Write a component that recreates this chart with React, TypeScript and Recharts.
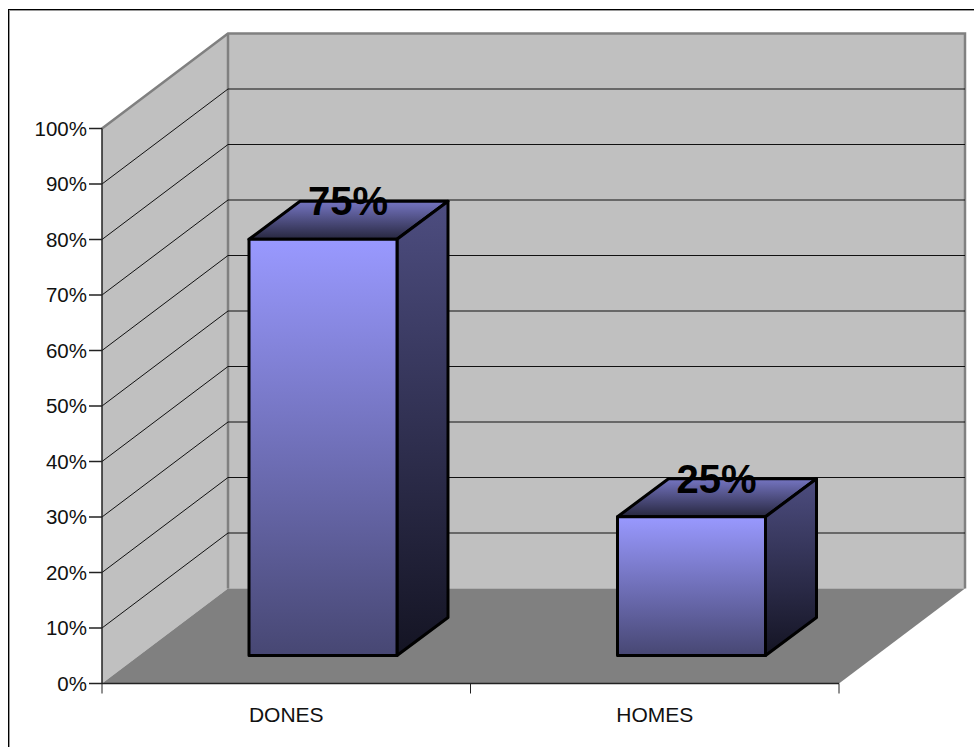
import React from 'react';
import { BarChart, Bar, XAxis, YAxis, CartesianGrid, LabelList, ReferenceArea } from 'recharts';

const CATEGORIES = ['DONES', 'HOMES'];
const VALUES = [75, 25];
const Y_TICKS = [0, 10, 20, 30, 40, 50, 60, 70, 80, 90, 100];

const chartData = CATEGORIES.map((name, i) => ({ name, value: VALUES[i] }));

// depth of the fake 3D box
const WALL_DX = 126;
const WALL_DY = -95;
const BAR_SHIFT_X = 37;
const BAR_SHIFT_Y = -28;
const BAR_DX = 51;
const BAR_DY = -38;
const BAND_WIDTH = 368.5;

const FONT = '"Liberation Sans", Arial, sans-serif';
const AXIS_COLOR = '#222';

// back wall, side wall and floor, drawn from the plot rectangle
const Walls = ({ x, y, width, height }: any) => {
  const left = x;
  const right = x + width;
  const top = y;
  const bottom = y + height;
  return (
    <g>
      <polygon
        points={`${left},${bottom} ${left},${top} ${left + WALL_DX},${top + WALL_DY} ${left + WALL_DX},${bottom + WALL_DY}`}
        fill="#c0c0c0"
      />
      <polygon
        points={`${left + WALL_DX},${top + WALL_DY} ${right + WALL_DX},${top + WALL_DY} ${right + WALL_DX},${bottom + WALL_DY} ${left + WALL_DX},${bottom + WALL_DY}`}
        fill="#c0c0c0"
      />
      <polygon
        points={`${left},${bottom} ${right},${bottom} ${right + WALL_DX},${bottom + WALL_DY} ${left + WALL_DX},${bottom + WALL_DY}`}
        fill="#808080"
      />
      <polyline
        points={`${left},${top} ${left + WALL_DX},${top + WALL_DY} ${right + WALL_DX},${top + WALL_DY} ${right + WALL_DX},${bottom + WALL_DY}`}
        fill="none"
        stroke="#808080"
        strokeWidth={2.5}
      />
      <line
        x1={left + WALL_DX}
        y1={top + WALL_DY}
        x2={left + WALL_DX}
        y2={bottom + WALL_DY}
        stroke="#808080"
        strokeWidth={2.5}
      />
    </g>
  );
};

// one gridline runs up the side wall and across the back wall
// 0% and 100% are left out, the wall edges stand in for them
const GridLine = ({ x1, x2, y1, index }: any) => {
  if (index === 0 || index === Y_TICKS.length - 1 || y1 === undefined) return <g key={`grid-${index}`} />;
  return (
    <polyline
      key={`grid-${index}`}
      points={`${x1},${y1} ${x1 + WALL_DX},${y1 + WALL_DY} ${x2 + WALL_DX},${y1 + WALL_DY}`}
      fill="none"
      stroke="#111"
      strokeWidth={1}
    />
  );
};

const Bar3D = ({ x, y, width, height }: any) => {
  const fx = x + BAR_SHIFT_X;
  const fy = y + BAR_SHIFT_Y;
  const fb = fy + height;
  const fr = fx + width;
  return (
    <g stroke="#000" strokeWidth={3} strokeLinejoin="round">
      <polygon
        points={`${fx},${fy} ${fr},${fy} ${fr + BAR_DX},${fy + BAR_DY} ${fx + BAR_DX},${fy + BAR_DY}`}
        fill="url(#topFace)"
      />
      <polygon
        points={`${fr},${fy} ${fr + BAR_DX},${fy + BAR_DY} ${fr + BAR_DX},${fb + BAR_DY} ${fr},${fb}`}
        fill="url(#sideFace)"
      />
      <rect x={fx} y={fy} width={width} height={height} fill="url(#frontFace)" />
    </g>
  );
};

const PercentLabel = ({ x, y, width, value }: any) => (
  <text
    x={x + width / 2 + 62}
    y={y - 52}
    textAnchor="middle"
    fontFamily={FONT}
    fontSize={40}
    fontWeight="bold"
    fill="#000"
  >
    {`${value}%`}
  </text>
);

const YTick = ({ x, y, payload }: any) => (
  <text x={x} y={y + 7} textAnchor="end" fontFamily={FONT} fontSize={20.5} fill="#111">
    {`${payload.value}%`}
  </text>
);

// the tick marks sit on the band edges, the label in the middle
const XTick = ({ x, y, payload, index }: any) => (
  <g>
    <line x1={x - BAND_WIDTH / 2} y1={y - 8} x2={x - BAND_WIDTH / 2} y2={y + 2} stroke={AXIS_COLOR} />
    {index === CATEGORIES.length - 1 && (
      <line x1={x + BAND_WIDTH / 2} y1={y - 8} x2={x + BAND_WIDTH / 2} y2={y + 2} stroke={AXIS_COLOR} />
    )}
    <text x={x} y={y + 30} textAnchor="middle" fontFamily={FONT} fontSize={21} fill="#111">
      {payload.value}
    </text>
  </g>
);

export default function App() {
  return (
    <div
      style={{
        position: 'absolute',
        left: 0,
        top: 0,
        width: 974,
        height: 747,
        background: '#fff',
        overflow: 'hidden',
      }}
    >
      <div
        style={{
          position: 'absolute',
          left: 8,
          top: 9,
          width: 1000,
          height: 800,
          borderLeft: '1px solid #000',
          borderTop: '1px solid #000',
          boxShadow: 'inset 1px 1px 0 #9a9a9a',
        }}
      />
      <BarChart
        width={974}
        height={747}
        data={chartData}
        margin={{ top: 128.5, right: 135, bottom: 0, left: 0 }}
        barSize={148}
        style={{ position: 'absolute', left: 0, top: 0 }}
      >
        <defs>
          <linearGradient id="frontFace" x1="0" y1="0" x2="0" y2="1">
            <stop offset="0%" stopColor="#9999ff" />
            <stop offset="100%" stopColor="#474773" />
          </linearGradient>
          <linearGradient id="sideFace" x1="0" y1="0" x2="0" y2="1">
            <stop offset="0%" stopColor="#4d4d80" />
            <stop offset="100%" stopColor="#141423" />
          </linearGradient>
          <linearGradient id="topFace" x1="0" y1="0" x2="0" y2="1">
            <stop offset="0%" stopColor="#7575c2" />
            <stop offset="100%" stopColor="#27273f" />
          </linearGradient>
        </defs>
        <ReferenceArea y1={0} y2={100} shape={<Walls />} ifOverflow="visible" zIndex={-200} />
        <CartesianGrid
          vertical={false}
          stroke="#000"
          zIndex={-100}
          horizontal={(props: any) => <GridLine {...props} />}
        />
        <XAxis
          dataKey="name"
          axisLine={{ stroke: AXIS_COLOR, strokeWidth: 1.5 }}
          tickLine={false}
          height={63.5}
          tick={<XTick />}
          interval={0}
        />
        <YAxis
          domain={[0, 100]}
          ticks={Y_TICKS}
          width={102}
          axisLine={{ stroke: AXIS_COLOR, strokeWidth: 1.5 }}
          tickLine={{ stroke: AXIS_COLOR, strokeWidth: 1.5 }}
          tickSize={13}
          tick={<YTick />}
          interval={0}
        />
        <Bar dataKey="value" shape={<Bar3D />} isAnimationActive={false}>
          <LabelList dataKey="value" content={<PercentLabel />} />
        </Bar>
      </BarChart>
    </div>
  );
}
